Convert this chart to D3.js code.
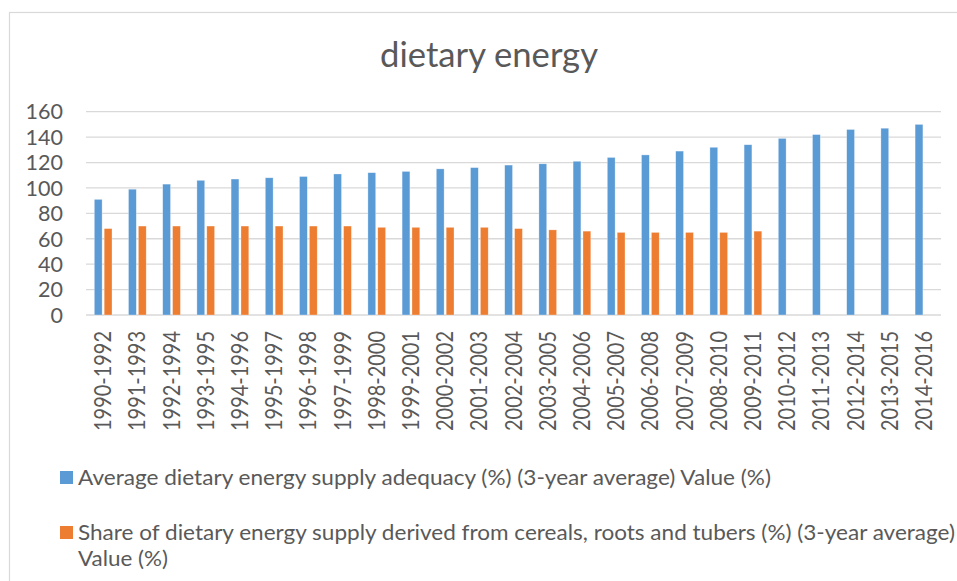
<!DOCTYPE html>
<html><head><meta charset="utf-8">
<script src="https://cdn.jsdelivr.net/npm/d3@7"></script>
<style>html,body{margin:0;padding:0;background:#fff;}svg{display:block;}</style>
</head><body>
<svg id="chart" width="957" height="581"></svg>
<script>
const categories = ["1990-1992","1991-1993","1992-1994","1993-1995","1994-1996","1995-1997","1996-1998","1997-1999","1998-2000","1999-2001","2000-2002","2001-2003","2002-2004","2003-2005","2004-2006","2005-2007","2006-2008","2007-2009","2008-2010","2009-2011","2010-2012","2011-2013","2012-2014","2013-2015","2014-2016"];
const adequacy = [91,99,103,106,107,108,109,111,112,113,115,116,118,119,121,124,126,129,132,134,139,142,146,147,150];
const cerealShare = [68,70,70,70,70,70,70,70,69,69,69,69,68,67,66,65,65,65,65,66,null,null,null,null,null];
const yTicks = [0,20,40,60,80,100,120,140,160];
const seriesNames = ["Average dietary energy supply adequacy (%) (3-year average) Value (%)",
  "Share of dietary energy supply derived from cereals, roots and tubers (%) (3-year average)"];
const seriesNameCont = "Value (%)";
const titleText = "dietary energy";

const colors = ["#5B9BD5", "#ED7D31"];
const textColor = "#595959";
const font = "Lato, 'Open Sans', sans-serif";

const svg = d3.select("#chart");
svg.append("rect").attr("width",957).attr("height",581).attr("fill","#fff");
svg.append("rect").attr("x",9.5).attr("y",12.5).attr("width",1000).attr("height",700)
  .attr("fill","none").attr("stroke","#d9d9d9").attr("stroke-width",1.2);

svg.append("text").attr("x",489).attr("y",67).attr("text-anchor","middle")
  .attr("font-family",font).attr("font-size",34).attr("fill",textColor)
  .attr("textLength",218).attr("lengthAdjust","spacingAndGlyphs").text(titleText);

const x = d3.scaleBand().domain(categories).range([86, 941]).padding(0);
const sub = d3.scaleBand().domain([0,1]).range([8.3, 26]).paddingInner(0.21).paddingOuter(0);
const y = d3.scaleLinear().domain([0,160]).range([315, 111.7]);

svg.append("g").selectAll("line").data(yTicks).join("line")
  .attr("x1",86).attr("x2",941).attr("y1",d=>y(d)).attr("y2",d=>y(d))
  .attr("stroke","#d9d9d9").attr("stroke-width",1.3);

svg.append("g").selectAll("text").data(yTicks).join("text")
  .attr("x",63).attr("y",d=>y(d)).attr("dy","0.36em").attr("text-anchor","end")
  .attr("font-family",font).attr("font-size",21.5).attr("fill",textColor).text(d=>d);

const series = [adequacy, cerealShare];
series.forEach((vals,si)=>{
  svg.append("g").selectAll("rect").data(categories.map((c,i)=>({c,v:vals[i]})).filter(d=>d.v!=null))
    .join("rect")
    .attr("x",d=>x(d.c)+sub(si)).attr("width",sub.bandwidth())
    .attr("y",d=>y(d.v)).attr("height",d=>y(0)-y(d.v))
    .attr("fill",colors[si]).attr("stroke","#ffffff").attr("stroke-opacity",0.5).attr("stroke-width",0.6);
});

svg.append("g").selectAll("text").data(categories).join("text")
  .attr("transform",d=>`translate(${x(d)+x.bandwidth()/2},331) rotate(-90)`)
  .attr("dy","0.36em").attr("text-anchor","end")
  .attr("font-family",font).attr("font-size",22.5).attr("fill",textColor)
  .attr("textLength",100).attr("lengthAdjust","spacingAndGlyphs").text(d=>d);

const leg = svg.append("g");
leg.append("rect").attr("x",60).attr("y",471).attr("width",13).attr("height",13).attr("fill",colors[0]);
leg.append("text").attr("x",78).attr("y",485).attr("font-family",font).attr("font-size",22).attr("fill",textColor)
  .attr("textLength",693).attr("lengthAdjust","spacingAndGlyphs").text(seriesNames[0]);
leg.append("rect").attr("x",60).attr("y",526).attr("width",13).attr("height",13).attr("fill",colors[1]);
leg.append("text").attr("x",78).attr("y",540).attr("font-family",font).attr("font-size",22).attr("fill",textColor)
  .attr("textLength",877).attr("lengthAdjust","spacingAndGlyphs").text(seriesNames[1]);
leg.append("text").attr("x",78).attr("y",566).attr("font-family",font).attr("font-size",22).attr("fill",textColor)
  .attr("textLength",90).attr("lengthAdjust","spacingAndGlyphs").text(seriesNameCont);
</script>
</body></html>
